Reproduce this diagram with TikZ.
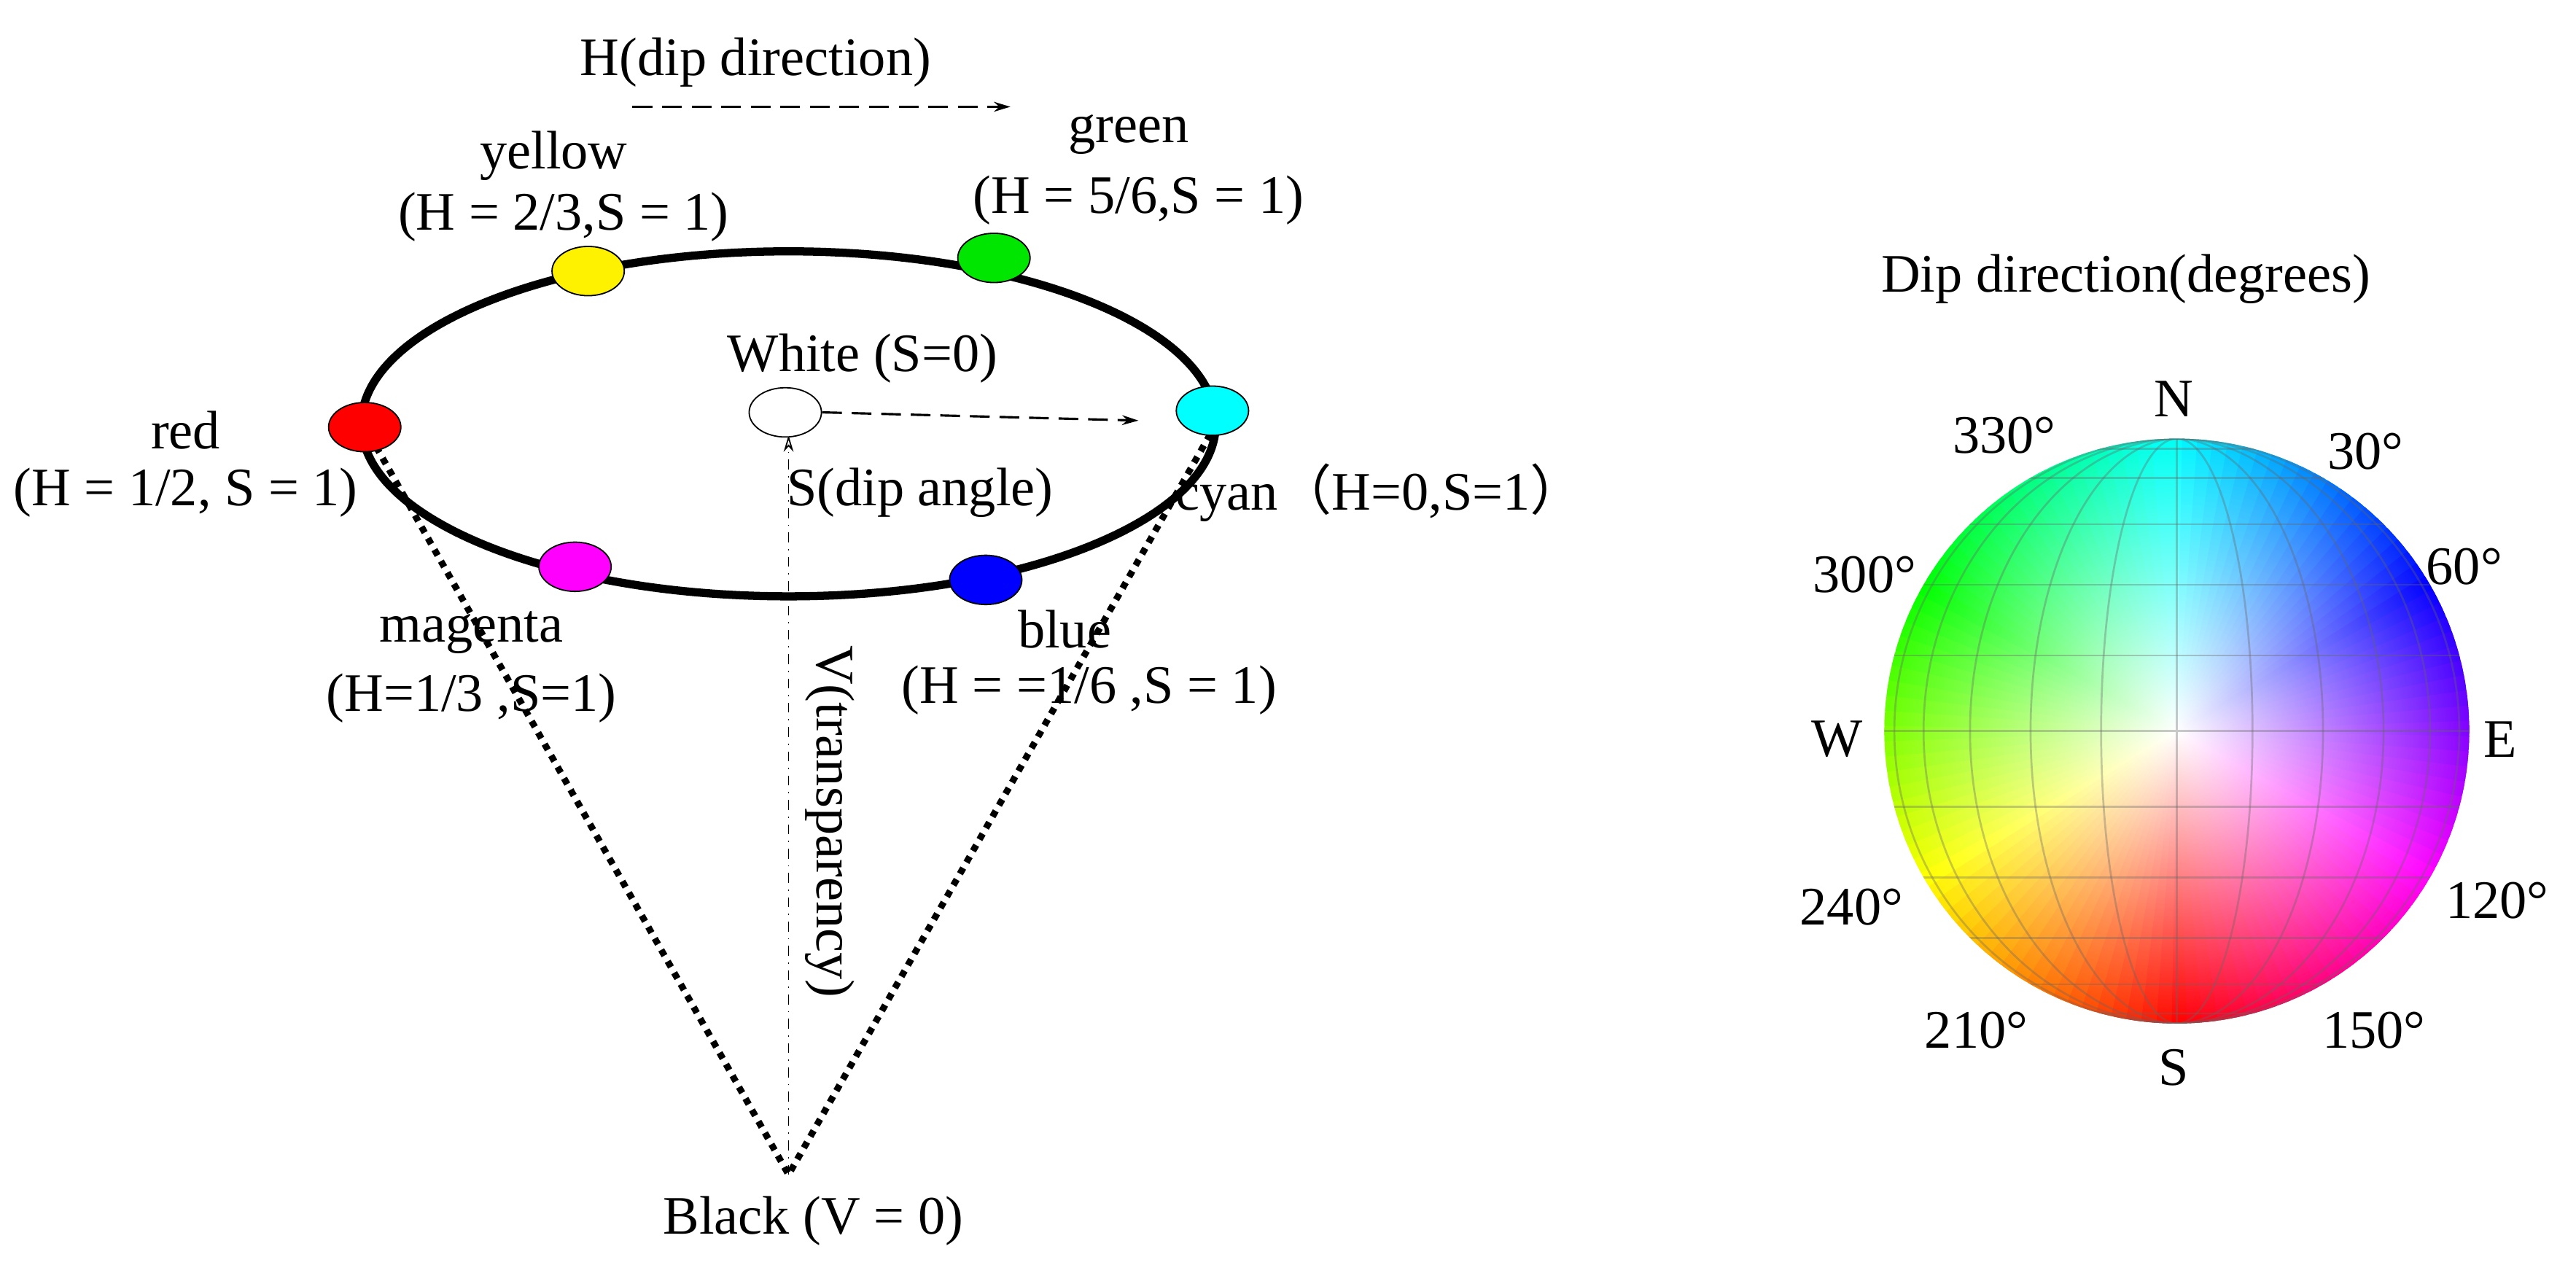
\documentclass[tikz,border=0pt]{standalone}
\usepackage{fontspec}
\setmainfont{Liberation Serif}
\newfontfamily\cjk{Noto Sans CJK SC}
\usetikzlibrary{arrows.meta,fadings,shapes.geometric,calc}
\tikzfading[name=cf, inner color=transparent!0, outer color=transparent!100]
\definecolor{cy}{RGB}{0,255,255}
\definecolor{mg}{RGB}{255,0,255}
\definecolor{gr}{RGB}{0,230,0}
\begin{document}
\begin{tikzpicture}[x=0.5pt,y=-0.5pt,
  lbl/.style={font=\fontsize{16.5}{18}\selectfont, inner sep=0pt},
  dot/.style={draw, thin, ellipse, minimum width=22pt, minimum height=15pt, inner sep=0pt},
  conel/.style={line width=2pt, dotted},
  dar/.style={line width=0.7pt, dash pattern=on 6pt off 3pt, -{Stealth[length=5pt,width=3pt,open]}}]
\useasboundingbox (0,0) rectangle (1568,770);
\path (480,258) coordinate (c);
\draw[line width=2.5pt] (c) ellipse [x radius=260, y radius=105];
\coordinate (apex) at (480,715);
\draw[conel] (225,265) -- (apex) -- (738,262);
\draw[dash dot, -{Stealth[length=5pt,width=3pt,open]}] (apex) -- (480,265);
\node[dot, fill=red] (red) at (222,260) {};
\node[dot, fill=yellow] (yel) at (358,165) {};
\node[dot, fill=gr] (grn) at (605,157) {};
\node[dot, fill=cy] (cyn) at (738,250) {};
\node[dot, fill=blue] (blu) at (600,353) {};
\node[dot, fill=mg] (mag) at (350,345) {};
\node[dot, fill=white] (wht) at (478,251) {};
\coordinate (hA) at (385,65); \coordinate (hB) at (615,65);
\draw[dar] (hA) -- (hB);
\draw[dar] (wht.east) -- (693,256);
\node[lbl] at (460,38) {H(dip direction)};
\node[lbl] at (337,95) {yellow};
\node[lbl] at (343,132) {(H = 2/3,S = 1)};
\node[lbl] at (687,82) {green};
\node[lbl] at (693,122) {(H = 5/6,S = 1)};
\node[lbl] at (525,218) {White (S=0)};
\node[lbl] at (113,262) {red};
\node[lbl] at (113,300) {(H = 1/2, S = 1)};
\node[lbl] at (560,300) {S(dip angle)};
\node[lbl] at (840,300) {cyan{\cjk （}H=0,S=1{\cjk ）}};
\node[lbl] at (287,385) {magenta};
\node[lbl] at (287,425) {(H=1/3 ,S=1)};
\node[lbl] at (648,383) {blue};
\node[lbl] at (663,420) {(H = =1/6 ,S = 1)};
\node[lbl, rotate=-90] at (505,500) {V(transparency)};
\node[lbl] at (495,743) {Black (V = 0)};
% sphere
\node[lbl] at (1294,170) {Dip direction(degrees)};
\coordinate (sc) at (1325,445);
\foreach \a in {0,3,...,357}{
  \pgfmathtruncatemacro\h{mod(180+\a,360)}
  \definecolor{tmp}{Hsb}{\h,1,1}
  \fill[tmp] (sc) -- ++({\a-90-2}:178) arc[start angle={\a-90-2}, end angle={\a-90+3.5}, radius=178] -- cycle;
}
\fill[white, path fading=cf] (sc) circle[radius=178];
\begin{scope}
\clip (sc) circle[radius=178];
\foreach \k in {15,30,...,75}{
  \draw[black!60, opacity=0.35, line width=0.6pt] (sc) ellipse[x radius={178*cos(\k)}, y radius=178];
  \draw[black!60, opacity=0.35, line width=0.6pt] ($(sc)+(-200,{178*sin(\k)})$) -- ++(400,0);
  \draw[black!60, opacity=0.35, line width=0.6pt] ($(sc)+(-200,{-178*sin(\k)})$) -- ++(400,0);
}
\draw[black!60, opacity=0.35, line width=0.6pt] (sc) ++(0,-178) -- ++(0,356) (sc) ++(-178,0) -- ++(356,0);
\end{scope}
\foreach \t/\x/\y in {N/1323/243,30°/1440/275,60°/1500/345,E/1522/450,120°/1520/548,150°/1445/627,S/1323/650,210°/1203/627,240°/1127/552,W/1118/450,300°/1135/350,330°/1220/265}
  \node[lbl] at (\x,\y) {\t};
\end{tikzpicture}
\end{document}
